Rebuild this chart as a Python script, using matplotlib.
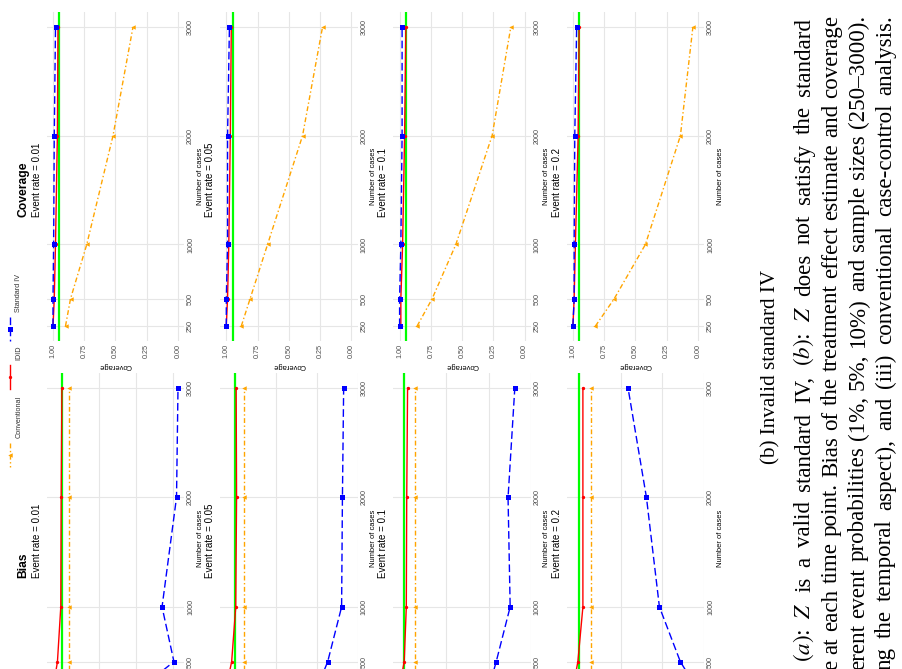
import numpy as np
import matplotlib.pyplot as plt
from matplotlib.ticker import FormatStrFormatter

plt.rcParams['font.family'] = ['Liberation Sans', 'DejaVu Sans']
plt.rcParams['mathtext.fontset'] = 'stix'

W, H = 903, 669

# ---- data ----
cases = [250, 500, 1000, 2000, 3000]
event_rates = ["0.01", "0.05", "0.1", "0.2"]
methods = ["Conventional", "IDID", "Standard IV"]

cov_conventional = [[0.90, 0.86, 0.73, 0.52, 0.36],
                    [0.88, 0.81, 0.67, 0.39, 0.23],
                    [0.86, 0.74, 0.55, 0.26, 0.11],
                    [0.82, 0.67, 0.42, 0.14, 0.04]]
cov_idid = [[1.00, 0.99, 0.98, 0.965, 0.96],
            [1.00, 0.99, 0.98, 0.968, 0.96],
            [0.99, 0.99, 0.976, 0.96, 0.95],
            [1.00, 0.99, 0.98, 0.958, 0.95]]
cov_standard = [[1.00, 1.00, 0.995, 0.99, 0.98],
                [1.00, 1.00, 0.99, 0.99, 0.975],
                [1.00, 1.00, 0.99, 0.98, 0.98],
                [1.00, 0.99, 0.99, 0.985, 0.97]]

bias_conventional = [[-0.018, -0.018, -0.018, -0.018, -0.018],
                     [-0.021, -0.021, -0.021, -0.021, -0.021],
                     [-0.026, -0.026, -0.026, -0.026, -0.026],
                     [-0.029, -0.029, -0.029, -0.029, -0.029]]
bias_idid = [[0.024, 0.012, 0.003, 0.002, 0.000],
             [0.022, 0.008, -0.002, -0.004, -0.003],
             [0.012, 0.000, -0.005, -0.006, -0.008],
             [0.014, 0.002, -0.010, -0.010, -0.010]]
bias_standard = [[-0.21, -0.302, -0.27, -0.309, -0.313],
                 [-0.20, -0.227, -0.261, -0.263, -0.266],
                 [-0.20, -0.218, -0.251, -0.246, -0.262],
                 [-0.283, -0.243, -0.193, -0.162, -0.118]]

nominal_coverage = 0.95
caption_sub = "(b) Invalid standard IV"
caption_lines = [r"$(a)$: $Z$ is a valid standard IV, $(b)$: $Z$ does not satisfy the standard",
                 "e at each time point. Bias of the treatment effect estimate and coverage",
                 "erent event probabilities (1%, 5%, 10%) and sample sizes (250\u20133000).",
                 "ng the temporal aspect), and (iii) conventional case-control analysis."]

# ---- styles ----
colors = {"Conventional": "#FFA500", "IDID": "#FF0000", "Standard IV": "#0000FF"}
lstyles = {"Conventional": (0, (3.5, 1.8, 1, 1.8)), "IDID": "-", "Standard IV": (0, (5.5, 2.5))}
markers = {"Conventional": "<", "IDID": "o", "Standard IV": "s"}
msizes = {"Conventional": 3.2, "IDID": 2.4, "Standard IV": 3.6}

fig = plt.figure(figsize=(W / 100, H / 100), dpi=100)


def px_axes(left, top, width, height):
    return fig.add_axes([left / W, 1 - (top + height) / H, width / W, height / H])


def fx(x):
    return x / W


def fy(y):
    return 1 - y / H


def draw_panel(ax, series, ref, lim, ticks, fmt, xlab):
    ax.axvline(ref, color="#00FF00", lw=1.6, zorder=1)
    for m, vals in zip(methods, series):
        ax.plot(vals, cases, color=colors[m], ls=lstyles[m], lw=1.0,
                marker=markers[m], ms=msizes[m], mew=0, zorder=3)
    lo, hi = lim
    pad = 0.05 * (hi - lo)
    ax.set_xlim(hi + pad, lo - pad)
    cpad = 0.05 * (max(cases) - min(cases))
    ax.set_ylim(min(cases) - cpad, max(cases) + cpad)
    ax.set_xticks(ticks)
    ax.xaxis.set_major_formatter(FormatStrFormatter(fmt))
    ax.set_yticks(cases)
    ax.set_facecolor("none")
    for s in ax.spines.values():
        s.set_visible(False)
    ax.grid(True, color="#E6E6E6", lw=0.8)
    ax.set_axisbelow(True)
    ax.tick_params(length=0, labelcolor="#4D4D4D", labelsize=5.2, pad=2)
    ax.yaxis.tick_right()
    ax.yaxis.set_label_position("right")
    ax.set_ylabel("Number of cases", rotation=90, fontsize=5.4, labelpad=2)
    ax.set_xlabel(xlab, rotation=180, fontsize=5.4, labelpad=3)
    for lab in ax.get_yticklabels():
        lab.set_rotation(90)
        lab.set_va("center")
    for lab in ax.get_xticklabels():
        lab.set_rotation(90)


row_left = 46.75
row_step = 173.3
panel_w = 137.5
cov_top, cov_h = 12.0, 329.0
bias_top, bias_h = 373.0, 331.0

for i, rate in enumerate(event_rates):
    left = row_left + i * row_step
    ax_c = px_axes(left, cov_top, panel_w, cov_h)
    draw_panel(ax_c, [cov_conventional[i], cov_idid[i], cov_standard[i]],
               nominal_coverage, (0.0, 1.0), [0, 0.25, 0.5, 0.75, 1.0], "%.2f", "Coverage")

    ax_b = px_axes(left, bias_top, panel_w, bias_h)
    allb = bias_conventional[i] + bias_idid[i] + bias_standard[i]
    draw_panel(ax_b, [bias_conventional[i], bias_idid[i], bias_standard[i]],
               0.0, (min(allb), max(allb)), [-0.3, -0.2, -0.1, 0.0], "%.1f", "Bias")

    # subtitles
    fig.text(fx(left - 10), fy(cov_top + 205), f"Event rate = {rate}", rotation=90,
             ha="center", va="bottom", fontsize=7)
    fig.text(fx(left - 10), fy(bias_top + 205), f"Event rate = {rate}", rotation=90,
             ha="center", va="bottom", fontsize=7)

# bold titles of first row
fig.text(fx(23.5), fy(cov_top + 205), "Coverage", rotation=90, ha="center", va="bottom",
         fontsize=8.7, fontweight="bold")
fig.text(fx(23.5), fy(bias_top + 205), "Bias", rotation=90, ha="center", va="bottom",
         fontsize=8.7, fontweight="bold")

# legend (rotated, drawn by hand)
ov = fig.add_axes([0, 0, 1, 1])
ov.set_xlim(0, W)
ov.set_ylim(H, 0)
ov.axis("off")
legend_key_y = [455, 377, 329]
for m, ky in zip(methods, legend_key_y):
    ov.plot([10, 10], [ky - 12, ky + 12], color=colors[m], ls=lstyles[m], lw=1.0)
    ov.plot([10], [ky], color=colors[m], marker=markers[m], ms=msizes[m], mew=0)
    ov.text(19, ky - 17, m, rotation=90, ha="center", va="bottom", fontsize=5.2, color="#333333")

# caption, set as justified lines (one text per word)
fig.text(fx(771), fy(367), caption_sub, rotation=90, ha="center", va="center",
         fontsize=15.2, family="Liberation Serif")

cap_font = dict(fontsize=16.6, family="Liberation Serif")
renderer = fig.canvas.get_renderer()
caption_x = [805, 832, 859, 886]
caption_span = [(662, 18), (670, 15), (670, 15), (670, 15)]
for cx, (y0, y1), line in zip(caption_x, caption_span, caption_lines):
    words = line.split(" ")
    widths = []
    for w in words:
        t = fig.text(0, 0, w, **cap_font)
        widths.append(t.get_window_extent(renderer).width)
        t.remove()
    gap = ((y0 - y1) - sum(widths)) / (len(words) - 1)
    y = y0
    for w, wd in zip(words, widths):
        fig.text(fx(cx + 5), fy(y), w, rotation=90, rotation_mode="anchor",
                 ha="left", va="baseline", **cap_font)
        y -= wd + gap

fig.savefig("out.png", dpi=100)
